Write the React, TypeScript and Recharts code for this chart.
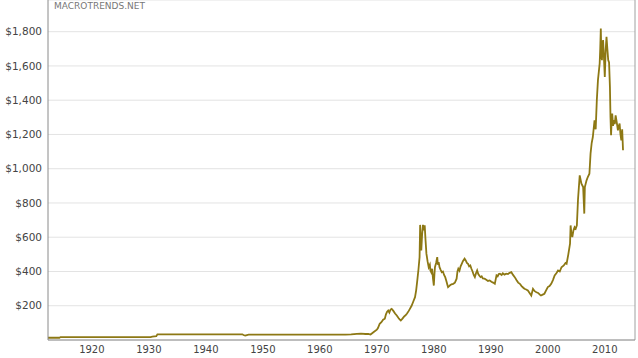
import {
  CartesianGrid,
  Line,
  LineChart,
  ReferenceLine,
  XAxis,
  YAxis,
} from 'recharts';

const years = [
  1912.3, 1914.3, 1914.5, 1930.3, 1930.6, 1931.3, 1931.5, 1946.4, 1946.6, 1946.9,
  1947.2, 1947.5, 1964.5, 1965.5, 1966.5, 1967.2, 1968.0, 1968.5, 1968.9, 1969.4,
  1970.0, 1970.2, 1970.5, 1970.8, 1971.1, 1971.4, 1971.6, 1971.8, 1972.0, 1972.2,
  1972.4, 1972.6, 1972.9, 1973.2, 1973.5, 1973.8, 1974.0, 1974.2, 1974.5, 1974.8,
  1975.0, 1975.3, 1975.6, 1975.8, 1976.1, 1976.4, 1976.7, 1976.9, 1977.1, 1977.3,
  1977.5, 1977.6, 1977.7, 1977.8, 1977.95, 1978.1, 1978.25, 1978.4, 1978.55, 1978.7,
  1978.9, 1979.1, 1979.3, 1979.4, 1979.55, 1979.7, 1979.85, 1980.0, 1980.1, 1980.2,
  1980.4, 1980.6, 1980.7, 1980.85, 1981.0, 1981.2, 1981.4, 1981.6, 1981.8, 1982.0,
  1982.2, 1982.4, 1982.5, 1982.8, 1983.1, 1983.4, 1983.7, 1984.0, 1984.15, 1984.3,
  1984.5, 1984.7, 1984.9, 1985.1, 1985.4, 1985.6, 1985.8, 1986.0, 1986.2, 1986.4,
  1986.6, 1986.8, 1987.0, 1987.2, 1987.4, 1987.6, 1987.8, 1988.0, 1988.2, 1988.4,
  1988.6, 1988.9, 1989.2, 1989.5, 1989.8, 1990.1, 1990.4, 1990.7, 1991.0, 1991.2,
  1991.4, 1991.6, 1991.9, 1992.1, 1992.4, 1992.7, 1993.0, 1993.3, 1993.6, 1993.9,
  1994.2, 1994.5, 1994.8, 1995.1, 1995.4, 1995.7, 1995.9, 1996.2, 1996.5, 1996.8,
  1997.1, 1997.4, 1997.7, 1998.0, 1998.3, 1998.6, 1998.8, 1999.1, 1999.4, 1999.7,
  2000.0, 2000.3, 2000.6, 2000.9, 2001.2, 2001.5, 2001.8, 2002.1, 2002.4, 2002.8,
  2003.1, 2003.3, 2003.6, 2003.9, 2004.0, 2004.15, 2004.3, 2004.5, 2004.7, 2004.9,
  2005.1, 2005.3, 2005.6, 2005.9, 2006.2, 2006.4, 2006.5, 2006.8, 2007.0, 2007.3,
  2007.5, 2007.7, 2007.9, 2008.2, 2008.4, 2008.6, 2008.8, 2009.1, 2009.2, 2009.3,
  2009.4, 2009.5, 2009.6, 2009.7, 2009.85, 2010.0, 2010.15, 2010.3, 2010.45, 2010.6,
  2010.75, 2010.9, 2011.0, 2011.1, 2011.2, 2011.3, 2011.45, 2011.6, 2011.75, 2011.9,
  2012.1, 2012.3, 2012.45, 2012.6, 2012.75, 2012.9, 2013.05, 2013.2,
];

const prices = [
  13, 13, 17, 17, 20, 22, 33, 33, 29, 26,
  29, 31, 31, 33, 36, 37, 35, 36, 32, 45,
  60, 70, 95, 104, 118, 124, 150, 165, 172, 160,
  178, 182, 170, 155, 143, 128, 120, 114, 125, 138,
  143, 155, 170, 182, 200, 225, 250, 290, 348, 410,
  484, 672, 560, 523, 620, 672, 640, 669, 580, 504,
  460, 425, 440, 406, 395, 416, 360, 318, 380, 425,
  450, 484, 440, 455, 425, 410, 396, 400, 380, 367,
  345, 320, 309, 318, 325, 328, 335, 358, 400, 416,
  405, 430, 445, 460, 475, 465, 450, 445, 430, 435,
  416, 400, 380, 367, 390, 406, 385, 375, 367, 372,
  360, 358, 352, 345, 348, 340, 335, 328, 377, 372,
  385, 387, 380, 390, 382, 387, 385, 392, 396, 380,
  367, 350, 335, 328, 315, 305, 299, 295, 289, 275,
  260, 299, 285, 279, 275, 265, 260, 265, 270, 290,
  309, 315, 328, 350, 377, 390, 406, 400, 425, 435,
  450, 445, 500, 562, 669, 620, 601, 640, 659, 650,
  669, 820, 961, 913, 893, 738, 893, 932, 950, 971,
  1088, 1150, 1185, 1283, 1230, 1400, 1517, 1614, 1700, 1819,
  1660, 1634, 1720, 1751, 1650, 1536, 1690, 1770, 1700, 1634,
  1620, 1478, 1300, 1195, 1280, 1322, 1250, 1283, 1260, 1312,
  1270, 1224, 1250, 1263, 1200, 1166, 1230, 1108,
];

const yearTicks = [1920, 1930, 1940, 1950, 1960, 1970, 1980, 1990, 2000, 2010];
const priceTicks = [200, 400, 600, 800, 1000, 1200, 1400, 1600, 1800];

const chartData = years.map((year, i) => ({ year, price: prices[i] }));

const formatPrice = (v: number) => `$${v.toLocaleString('en-US')}`;

export default function App() {
  return (
    <div style={{ position: 'absolute', left: 0, top: 0, width: 638, height: 358, background: '#fff' }}>
      <LineChart
        width={638}
        height={358}
        data={chartData}
        margin={{ top: 0, right: 3, left: 0, bottom: 0 }}
      >
        <CartesianGrid vertical={false} stroke="#e3e3e3" />
        <XAxis
          dataKey="year"
          type="number"
          domain={[1912.3, 2015.3]}
          ticks={yearTicks}
          height={18}
          tickLine={false}
          tickSize={4}
          tickMargin={2}
          stroke="#8a8a8a"
          tick={{ fill: '#444', fontSize: 10, fontFamily: 'DejaVu Sans' }}
        />
        <YAxis
          type="number"
          domain={[0, 1985]}
          ticks={priceTicks}
          width={48}
          tickLine={false}
          tickSize={4}
          tickMargin={2}
          stroke="#8a8a8a"
          tickFormatter={formatPrice}
          tick={{ fill: '#444', fontSize: 10.5, fontFamily: 'DejaVu Sans' }}
        />
        <ReferenceLine x={2015.3} stroke="#a0a0a0" />
        <Line
          type="linear"
          dataKey="price"
          stroke="#8d7814"
          strokeWidth={1.8}
          dot={false}
          isAnimationActive={false}
        />
      </LineChart>
      <div
        style={{
          position: 'absolute',
          left: 54,
          top: 1,
          fontFamily: 'DejaVu Sans',
          fontSize: 9,
          color: '#777',
        }}
      >
        MACROTRENDS.NET
      </div>
    </div>
  );
}
